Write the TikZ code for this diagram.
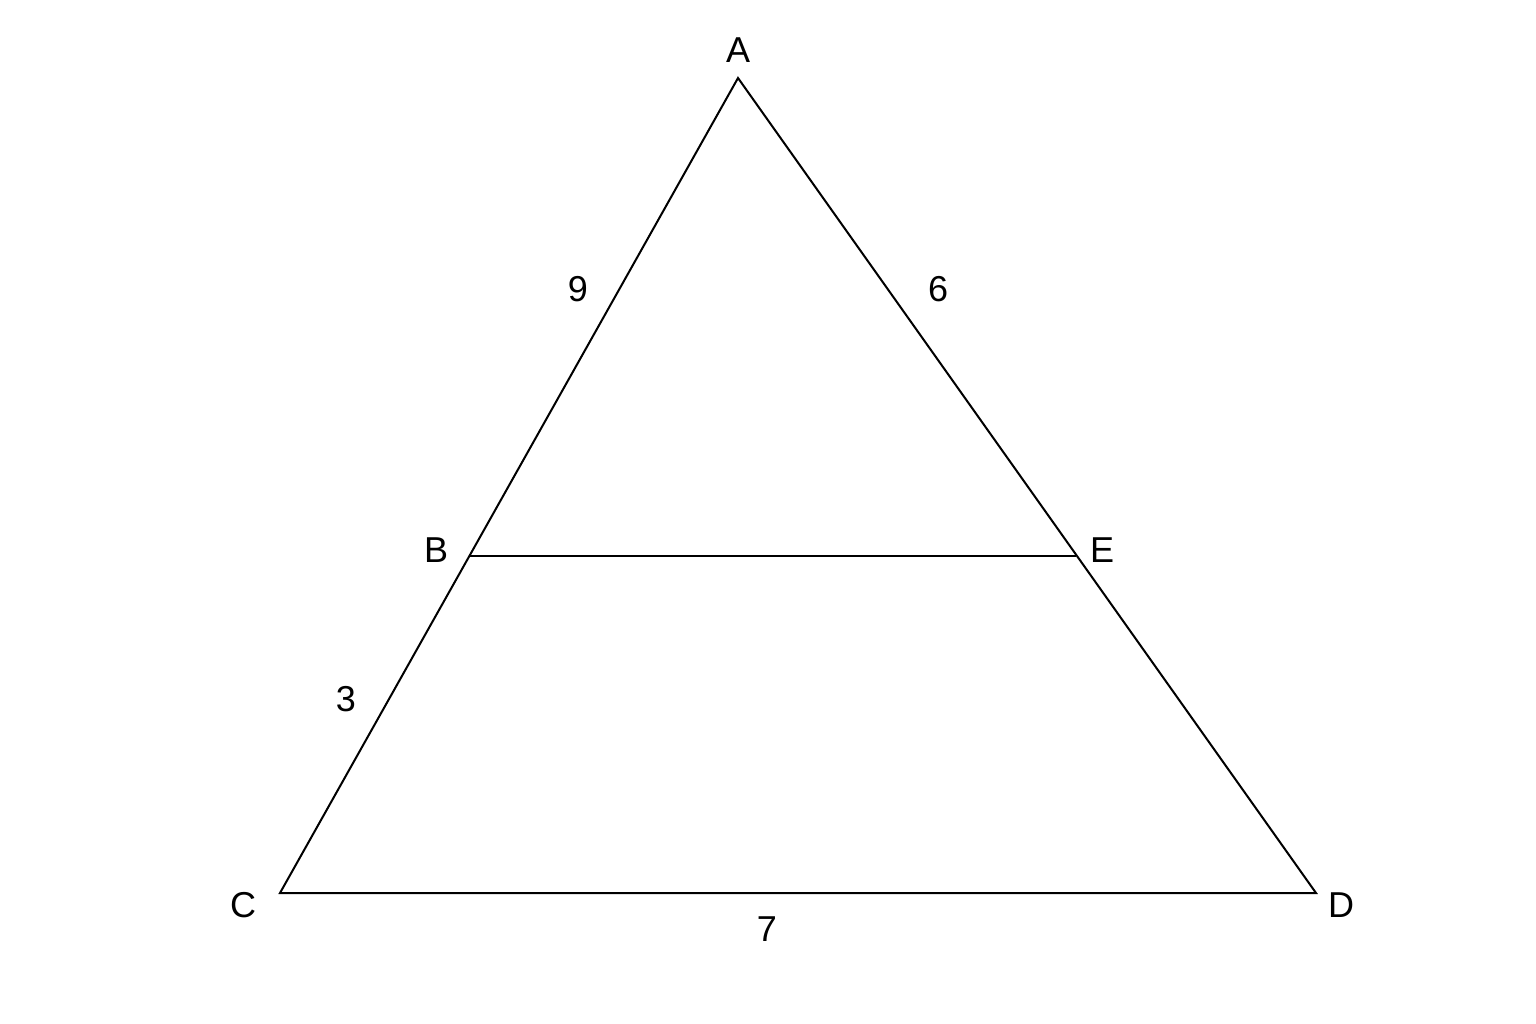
\documentclass[tikz,border=0pt]{standalone}
\usepackage{fontspec}
\setmainfont{Liberation Sans}
\begin{document}
\begin{tikzpicture}[x=1pt,y=-1pt,
  edge/.style={draw=black,line width=2pt,line join=miter},
  lbl/.style={font=\fontsize{36}{40}\selectfont,inner sep=0pt,anchor=center}]
\useasboundingbox[fill=white] (0,0) rectangle (1536,1024);
\coordinate (A) at (738,78);
\coordinate (B) at (470,556);
\coordinate (C) at (280,893);
\coordinate (D) at (1316,893);
\coordinate (E) at (1076,556);
\draw[edge] (A) -- (C) -- (D) -- cycle;
\draw[edge] (B) -- (E);
\node[lbl] (la) at (738,50) {A};
\node[lbl] (lb) at (436,550) {B};
\node[lbl] (lc) at (243,905) {C};
\node[lbl] (ld) at (1341,905) {D};
\node[lbl] (le) at (1102,550) {E};
\node[lbl] (n9) at (578,289) {9};
\node[lbl] (n6) at (938,289) {6};
\node[lbl] (n3) at (346,699) {3};
\node[lbl] (n7) at (767,929) {7};
\end{tikzpicture}
\end{document}
